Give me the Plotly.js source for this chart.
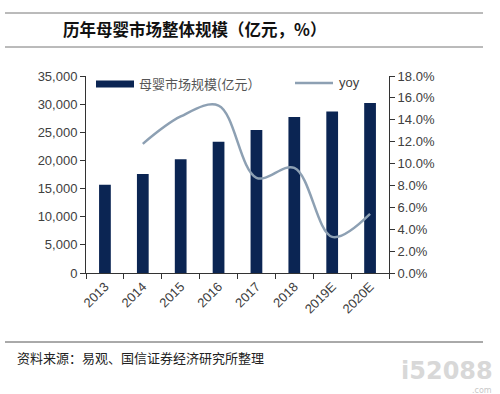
<!DOCTYPE html>
<html><head><meta charset="utf-8">
<script src="https://cdn.plot.ly/plotly-3.0.1.min.js"></script>
<style>body{margin:0;background:#fff}#c{width:500px;height:394px}</style>
</head><body><div id="c"></div>
<script>
const years = ['2013','2014','2015','2016','2017','2018','2019E','2020E'];
const marketSize = [15700, 17600, 20200, 23300, 25400, 27700, 28700, 30200];
const yoyYears = ['2014','2015','2016','2017','2018','2019E','2020E'];
const yoy = [0.118, 0.143, 0.153, 0.087, 0.096, 0.033, 0.054];
const leftTicks = [0,5000,10000,15000,20000,25000,30000,35000];
const rightTicks = [0,0.02,0.04,0.06,0.08,0.10,0.12,0.14,0.16,0.18];
const seriesNames = ['母婴市场规模(亿元）', 'yoy'];

const L=86, R=389, T=76, B=273;
const px = x => (x-L)/(R-L);
const py = y => (B-y)/(B-T);
const font = {family:'Liberation Sans, Arial, sans-serif', size:13, color:'#404040'};
const barColor = '#0b2553', lineColor = '#8da0b3';
const cjk = 'Noto Sans CJK SC, sans-serif';

const traces = [
  {type:'bar', x:years, y:marketSize, name:seriesNames[0], marker:{color:barColor}, width:0.31, showlegend:false},
  {type:'scatter', mode:'lines', x:yoyYears, y:yoy, name:seriesNames[1], yaxis:'y2', showlegend:false,
   line:{color:lineColor, width:2.5, shape:'spline', smoothing:1}}
];
const layout = {
  width:500, height:394,
  margin:{l:L, r:500-R, t:T, b:394-B},
  paper_bgcolor:'#fff', plot_bgcolor:'#fff',
  showlegend:false,
  xaxis:{type:'category', range:[-0.5,7.5], showline:true, linecolor:'#333', linewidth:1,
    ticks:'outside', tickson:'boundaries', ticklen:5, tickcolor:'#333', tickangle:-45,
    tickfont:font, showgrid:false, zeroline:false, fixedrange:true},
  yaxis:{range:[0,35000], tickvals:leftTicks, tickformat:',d', showline:true, linecolor:'#333',
    ticks:'outside', ticklen:5, tickcolor:'#333', tickfont:font, showgrid:false, zeroline:false},
  yaxis2:{overlaying:'y', side:'right', range:[0,0.18], tickvals:rightTicks, tickformat:'.1%',
    showline:true, linecolor:'#333', ticks:'outside', ticklen:5, tickcolor:'#333',
    tickfont:font, showgrid:false, zeroline:false},
  title:{text:'<b>历年母婴市场整体规模（亿元，%）</b>', xref:'container', yref:'container',
    x:63/500, xanchor:'left', y:1-30/394, yanchor:'middle',
    font:{family:cjk, size:16.5, color:'#111'}},
  shapes:[
    {type:'line', xref:'paper', yref:'paper', x0:px(5), x1:px(483), y0:py(13), y1:py(13), line:{color:'#777', width:1}},
    {type:'line', xref:'paper', yref:'paper', x0:px(5), x1:px(483), y0:py(47), y1:py(47), line:{color:'#777', width:1}},
    {type:'line', xref:'paper', yref:'paper', x0:px(5), x1:px(483), y0:py(342), y1:py(342), line:{color:'#555', width:1}},
    // legend swatches
    {type:'rect', xref:'paper', yref:'paper', x0:px(96), x1:px(134), y0:py(87.5), y1:py(80.5), fillcolor:barColor, line:{width:0}},
    {type:'line', xref:'paper', yref:'paper', x0:px(295), x1:px(333), y0:py(83), y1:py(83), line:{color:lineColor, width:2.5}}
  ],
  annotations:[
    {text:seriesNames[0], xref:'paper', yref:'paper', x:px(137), y:py(83.5), xanchor:'left', yanchor:'middle',
     showarrow:false, font:{family:cjk, size:13, color:'#555'}},
    {text:seriesNames[1], xref:'paper', yref:'paper', x:px(337), y:py(82.5), xanchor:'left', yanchor:'middle',
     showarrow:false, font:{family:'Liberation Sans, Arial, sans-serif', size:13, color:'#404040'}},
    {text:'资料来源：易观、国信证券经济研究所整理', xref:'paper', yref:'paper', x:px(15), y:py(357),
     xanchor:'left', yanchor:'middle', showarrow:false,
     font:{family:cjk, size:13, color:'#222'}},
    {text:'<b>i52088</b>', xref:'paper', yref:'paper', x:px(495), y:py(371),
     xanchor:'right', yanchor:'middle', showarrow:false,
     font:{family:'DejaVu Sans, sans-serif', size:24, color:'#d8d8d8'}},
    {text:'.com', xref:'paper', yref:'paper', x:px(494), y:py(390),
     xanchor:'right', yanchor:'middle', showarrow:false,
     font:{family:'DejaVu Sans, sans-serif', size:8, color:'#c8c8c8'}}
  ]
};
Plotly.newPlot('c', traces, layout, {displayModeBar:false, staticPlot:true});
</script></body></html>
